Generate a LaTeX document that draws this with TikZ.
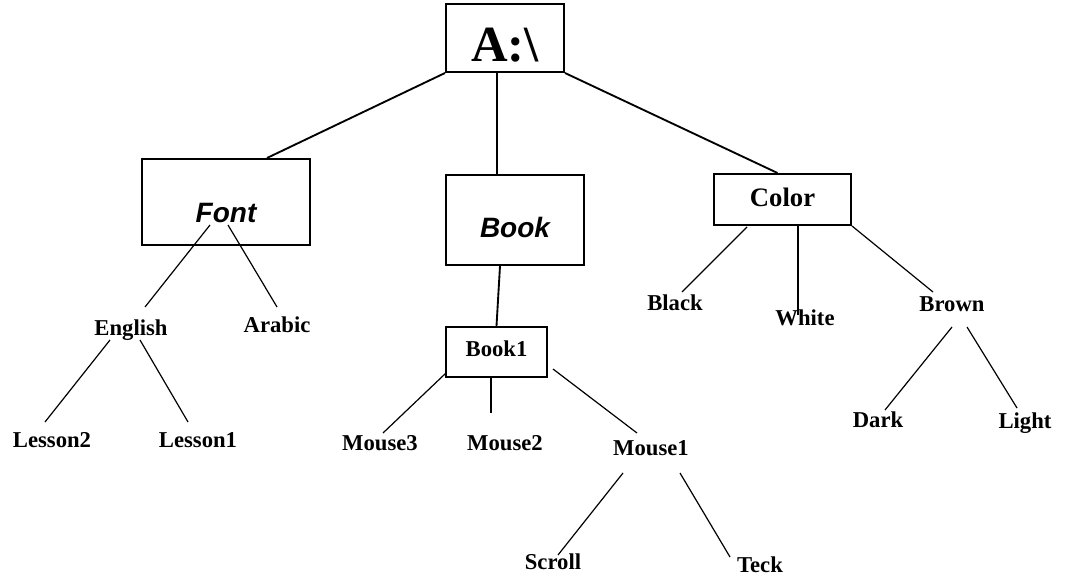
\documentclass[tikz,border=0pt]{standalone}
\usepackage{fontspec}
\setmainfont{Liberation Serif}
\newfontfamily\arialf{Liberation Sans}
\usetikzlibrary{calc}
\tikzset{
  lbl/.style={inner sep=0pt, font=\bfseries\fontsize{17}{17}\selectfont, text height=11.25pt, text depth=0pt},
  box/.style={draw, line width=1.5pt, inner sep=0pt},
  con/.style={line width=0.9pt},
  thk/.style={line width=1.4pt},
  sansit/.style={font=\arialf\bfseries\itshape\fontsize{21}{21}\selectfont}
}
\begin{document}
\begin{tikzpicture}[x=0.75pt,y=-0.75pt]
\useasboundingbox[fill=white] (0,0) rectangle (1071,581);
% boxes
\node[box, minimum width=88.5pt, minimum height=51pt, font=\bfseries\fontsize{38}{38}\selectfont, text height=35.7pt, text depth=0pt] (abox) at (505,38) {A:\textbackslash};
\node[box, sansit, minimum width=126pt, minimum height=64.5pt, text height=31.5pt, text depth=0pt] (fontbox) at (226,202) {Font};
\node[box, sansit, minimum width=103.5pt, minimum height=67.5pt, text height=27pt, text depth=0pt] (bookbox) at (515,220) {Book};
\node[box, minimum width=102.75pt, minimum height=38.25pt, font=\bfseries\fontsize{20}{20}\selectfont, text height=13.2pt, text depth=2.25pt] (colorbox) at (782.5,199.5) {Color};
\node[box, minimum width=75.75pt, minimum height=37.5pt, font=\bfseries\fontsize{17}{17}\selectfont, text height=11.25pt, text depth=4.5pt] (book1box) at (496.5,352) {Book1};
% labels
\node[lbl] (english) at (131,328) {English};
\node[lbl] (arabic) at (277,325) {Arabic};
\node[lbl] (lesson2) at (52,440) {Lesson2};
\node[lbl] (lesson1) at (198,440) {Lesson1};
\node[lbl] (mouse3) at (380,443) {Mouse3};
\node[lbl] (mouse2) at (505,443) {Mouse2};
\node[lbl] (mouse1) at (651,448) {Mouse1};
\node[lbl] (scroll) at (553,562) {Scroll};
\node[lbl] (teck) at (760,565) {Teck};
\node[lbl] (black) at (675,303) {Black};
\node[lbl] (white) at (805,318) {White};
\node[lbl] (brown) at (952,304) {Brown};
\node[lbl] (dark) at (878,420) {Dark};
\node[lbl] (light) at (1025,421) {Light};
% connectors
\draw[thk] (abox.south west) -- ($(fontbox.north)+(41,0)$);
\draw[thk] ($(abox.south)+(-8,0)$) -- ($(bookbox.north)+(-18,0)$);
\draw[thk] (abox.south east) -- ($(colorbox.north)+(-5,0)$);
\draw[con] ($(fontbox)+(-16,23)$) -- ($(english)+(14,-21)$);
\draw[con] ($(fontbox)+(2,23)$) -- ($(arabic)+(0,-18)$);
\draw[con] ($(english)+(-21,12)$) -- ($(lesson2)+(-7,-18)$);
\draw[con] ($(english)+(9,12)$) -- ($(lesson1)+(-10,-18)$);
\draw[thk] ($(bookbox.south)+(-15,0)$) -- (book1box.north);
\draw[con] ($(book1box)+(-50.5,21)$) -- ($(mouse3)+(3,-10)$);
\draw[thk] ($(book1box.south)+(-5.5,0)$) -- ($(mouse2)+(-14,-30)$);
\draw[con] ($(book1box)+(56.5,17)$) -- ($(mouse1)+(-14,-15)$);
\draw[con] ($(mouse1)+(-28,25)$) -- ($(scroll)+(5,-7)$);
\draw[con] ($(mouse1)+(29,25)$) -- ($(teck)+(-30,-8)$);
\draw[con] ($(colorbox)+(-35.5,27.5)$) -- ($(black)+(7,-11)$);
\draw[thk] ($(colorbox.south)+(15.5,0)$) -- ($(white)+(-7,-3)$);
\draw[con] (colorbox.south east) -- ($(brown)+(-19,-12)$);
\draw[con] ($(brown)+(0,23)$) -- ($(dark)+(7,-10)$);
\draw[con] ($(brown)+(15,23)$) -- ($(light)+(-8,-13)$);
\end{tikzpicture}
\end{document}
